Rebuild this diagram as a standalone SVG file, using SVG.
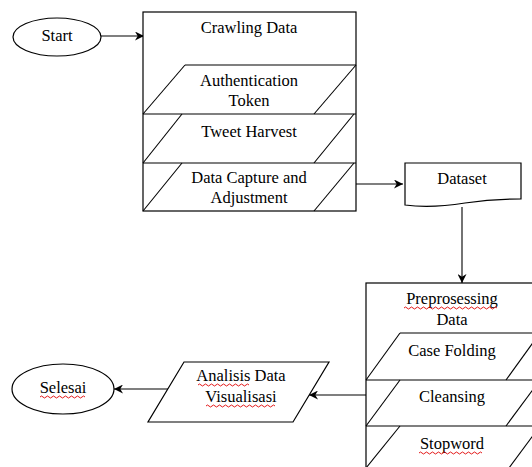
<svg xmlns="http://www.w3.org/2000/svg" width="532" height="467" viewBox="0 0 532 467">
<style>
.s{fill:#fff;stroke:#000;stroke-width:1.2}
.l{fill:none;stroke:#000;stroke-width:1.1}
.t{font-family:"Liberation Serif","Times New Roman",serif;font-size:16.5px;fill:#000;text-anchor:middle}
.w{fill:none;stroke:#e00000;stroke-width:0.9}
</style>
<defs>
<marker id="ah" viewBox="0 0 10 10" refX="10" refY="5" markerWidth="9" markerHeight="9" markerUnits="userSpaceOnUse" orient="auto">
<path d="M0,0 L10,5 L0,10 L3,5 z" fill="#000"/>
</marker>
</defs>
<rect width="532" height="467" fill="#fff"/>
<g id="connectors">
<line class="l" x1="101" y1="36" x2="144" y2="36" marker-end="url(#ah)"/>
<line class="l" x1="356" y1="184" x2="403" y2="184" marker-end="url(#ah)"/>
<line class="l" x1="462" y1="207" x2="462" y2="283" marker-end="url(#ah)"/>
<line class="l" x1="366" y1="395" x2="309" y2="395" marker-end="url(#ah)"/>
<line class="l" x1="168" y1="389" x2="114" y2="389" marker-end="url(#ah)"/>
</g>
<g id="start">
<ellipse class="s" cx="57" cy="37" rx="44" ry="19"/>
<text class="t" x="57" y="41">Start</text>
</g>
<g id="crawling">
<rect class="s" x="143" y="12" width="213" height="199"/>
<text class="t" x="249" y="33">Crawling Data</text>
</g>
<g id="auth">
<line class="l" x1="185" y1="65" x2="356" y2="65"/>
<line class="l" x1="143" y1="114" x2="356" y2="114"/>
<line class="l" x1="143" y1="114" x2="185" y2="65"/>
<line class="l" x1="314" y1="114" x2="356" y2="65"/>
<text class="t" x="249" y="86">Authentication</text>
<text class="t" x="249" y="106">Token</text>
</g>
<g id="tweet">
<line class="l" x1="143" y1="163" x2="356" y2="163"/>
<line class="l" x1="143" y1="163" x2="182" y2="114"/>
<line class="l" x1="314" y1="163" x2="354" y2="114"/>
<text class="t" x="249" y="137">Tweet Harvest</text>
</g>
<g id="capture">
<line class="l" x1="143" y1="211" x2="182" y2="163"/>
<line class="l" x1="314" y1="211" x2="354" y2="163"/>
<text class="t" x="249" y="183">Data Capture and</text>
<text class="t" x="249" y="203">Adjustment</text>
</g>
<g id="dataset">
<path class="s" d="M405,163 H521 V199 C500,199 485,200 465,203 C440,207 420,207 405,205 Z"/>
<text class="t" x="462" y="184">Dataset</text>
</g>
<g id="preprocessing">
<rect class="s" x="366" y="283" width="180" height="200"/>
<text class="t" x="452" y="304">Preprosessing</text>
<text class="t" x="452" y="325">Data</text>
<path class="w" d="M404,308 q1.5,-2 3,0 t3,0 t3,0 t3,0 t3,0 t3,0 t3,0 t3,0 t3,0 t3,0 t3,0 t3,0 t3,0 t3,0 t3,0 t3,0 t3,0 t3,0 t3,0 t3,0 t3,0 t3,0 t3,0 t3,0 t3,0 t3,0 t3,0 t3,0 t3,0 t3,0 t3,0"/>
</g>
<g id="casefolding">
<line class="l" x1="400" y1="333" x2="540" y2="333"/>
<line class="l" x1="366" y1="380" x2="540" y2="380"/>
<line class="l" x1="366" y1="380" x2="400" y2="333"/>
<line class="l" x1="506" y1="380" x2="540" y2="333"/>
<text class="t" x="452" y="356">Case Folding</text>
</g>
<g id="cleansing">
<line class="l" x1="366" y1="426" x2="540" y2="426"/>
<line class="l" x1="366" y1="426" x2="400" y2="380"/>
<line class="l" x1="506" y1="426" x2="540" y2="380"/>
<text class="t" x="452" y="402">Cleansing</text>
</g>
<g id="stopword">
<line class="l" x1="366" y1="468" x2="400" y2="426"/>
<line class="l" x1="506" y1="472" x2="540" y2="426"/>
<text class="t" x="452" y="449">Stopword</text>
<path class="w" d="M419,453 q1.5,-2 3,0 t3,0 t3,0 t3,0 t3,0 t3,0 t3,0 t3,0 t3,0 t3,0 t3,0 t3,0 t3,0 t3,0 t3,0 t3,0 t3,0 t3,0 t3,0 t3,0 t3,0"/>
</g>
<g id="analisis">
<polygon class="s" points="184,362 329,362 293,422 148,422"/>
<text class="t" x="241" y="381">Analisis Data</text>
<text class="t" x="241" y="402">Visualisasi</text>
<path class="w" d="M198,385 q1.5,-2 3,0 t3,0 t3,0 t3,0 t3,0 t3,0 t3,0 t3,0 t3,0 t3,0 t3,0 t3,0 t3,0 t3,0 t3,0 t3,0 t3,0"/>
<path class="w" d="M206,406 q1.5,-2 3,0 t3,0 t3,0 t3,0 t3,0 t3,0 t3,0 t3,0 t3,0 t3,0 t3,0 t3,0 t3,0 t3,0 t3,0 t3,0 t3,0 t3,0 t3,0 t3,0 t3,0 t3,0 t3,0"/>
</g>
<g id="selesai">
<ellipse class="s" cx="63" cy="389" rx="51" ry="25"/>
<text class="t" x="63" y="393">Selesai</text>
<path class="w" d="M40,397 q1.5,-2 3,0 t3,0 t3,0 t3,0 t3,0 t3,0 t3,0 t3,0 t3,0 t3,0 t3,0 t3,0 t3,0 t3,0 t3,0"/>
</g>
</svg>
